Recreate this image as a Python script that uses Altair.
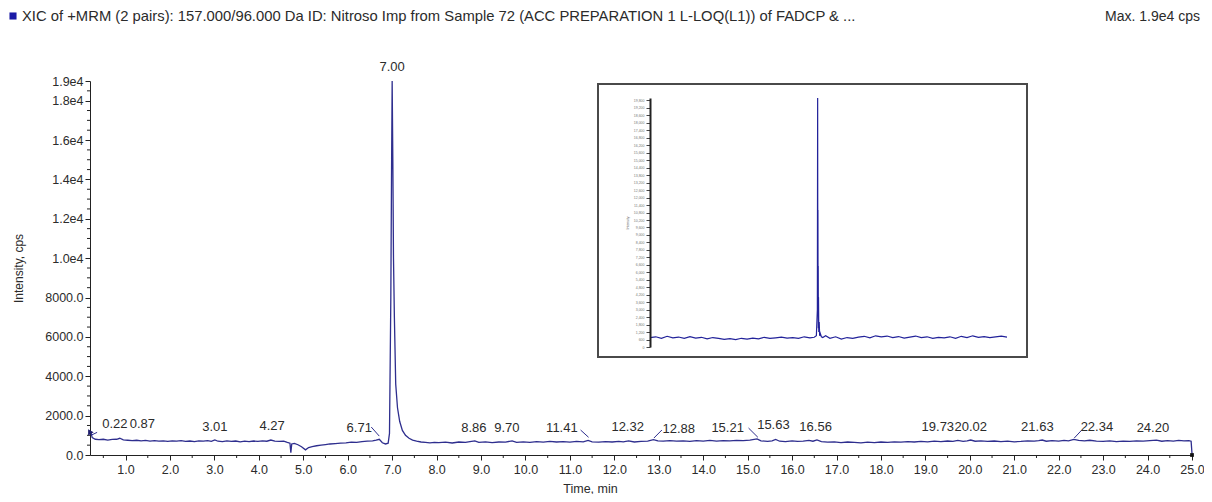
import altair as alt
import pandas as pd

# ---------------- data ----------------
time_min = [0.22, 0.25, 0.32, 0.40, 0.50, 0.60, 0.70, 0.80, 0.87, 0.95, 1.05, 1.15, 1.25, 1.35, 1.45,
            1.55, 1.65, 1.75, 1.85, 1.95, 2.05, 2.15, 2.25, 2.35, 2.45, 2.55, 2.65, 2.75, 2.85, 2.93,
            3.01, 3.08, 3.18, 3.28, 3.38, 3.48, 3.58, 3.68, 3.78, 3.88, 3.98, 4.08, 4.18, 4.27, 4.36,
            4.46, 4.56, 4.64, 4.70, 4.72, 4.74, 4.80, 4.88, 4.96, 5.05, 5.12, 5.20, 5.30, 5.40, 5.50,
            5.60, 5.72, 5.84, 5.96, 6.08, 6.20, 6.32, 6.44, 6.56, 6.64, 6.71, 6.78, 6.85, 6.91, 6.94,
            6.97, 6.985, 7.00, 7.015, 7.03, 7.05, 7.08, 7.12, 7.17, 7.23, 7.30, 7.38, 7.46, 7.55, 7.65,
            7.75, 7.85, 7.95, 8.05, 8.20, 8.35, 8.50, 8.65, 8.75, 8.86, 8.95, 9.10, 9.25, 9.40, 9.55,
            9.70, 9.80, 9.95, 10.10, 10.25, 10.40, 10.55, 10.70, 10.85, 11.00, 11.15, 11.30, 11.41, 11.50,
            11.65, 11.80, 11.95, 12.10, 12.20, 12.32, 12.45, 12.60, 12.75, 12.88, 12.98, 13.10, 13.25,
            13.40, 13.55, 13.70, 13.85, 14.00, 14.15, 14.30, 14.45, 14.60, 14.75, 14.90, 15.05, 15.21,
            15.30, 15.45, 15.55, 15.63, 15.72, 15.85, 16.00, 16.12, 16.25, 16.38, 16.47, 16.56, 16.66,
            16.80, 16.95, 17.10, 17.25, 17.40, 17.55, 17.70, 17.85, 18.00, 18.15, 18.30, 18.45, 18.60,
            18.75, 18.90, 19.05, 19.20, 19.35, 19.50, 19.62, 19.73, 19.85, 19.94, 20.02, 20.12, 20.25,
            20.40, 20.55, 20.70, 20.85, 21.00, 21.15, 21.30, 21.45, 21.55, 21.63, 21.72, 21.85, 22.00,
            22.12, 22.22, 22.34, 22.45, 22.58, 22.70, 22.85, 23.00, 23.15, 23.30, 23.45, 23.60, 23.75,
            23.90, 24.05, 24.20, 24.32, 24.45, 24.58, 24.70, 24.82, 24.93, 24.98, 25.00]
intensity = [1150, 880, 800, 780, 800, 760, 790, 800, 850, 770, 750, 730, 750, 720, 740,
             710, 730, 700, 720, 690, 720, 700, 730, 690, 710, 680, 720, 700, 730, 690,
             770, 700, 680, 720, 690, 710, 670, 700, 680, 710, 690, 720, 700, 760, 710,
             690, 700, 640, 600, 120, 560, 590, 520, 420, 260, 380, 430, 470, 500, 530,
             560, 580, 600, 620, 650, 640, 680, 700, 720, 760, 800, 620, 560, 600, 1100,
             8000, 14000, 19000, 15000, 10000, 7000, 3600, 2400, 1700, 1250, 1000, 850, 760, 700, 660,
             640, 620, 640, 630, 650, 610, 660, 640, 680, 720, 640, 670, 630, 660, 650,
             720, 640, 670, 640, 680, 650, 690, 660, 680, 650, 690, 670, 740, 670,
             650, 680, 660, 690, 670, 720, 660, 690, 710, 780, 720, 700, 730,
             700, 720, 690, 730, 710, 740, 700, 730, 720, 740, 730, 760, 820,
             720, 690, 720, 790, 700, 680, 720, 690, 700, 740, 700, 770, 680,
             650, 670, 630, 660, 640, 620, 650, 630, 660, 640, 670, 650, 680,
             660, 690, 670, 700, 680, 710, 690, 740, 690, 720, 760, 700, 720,
             690, 710, 680, 700, 670, 690, 720, 700, 730, 760, 700, 730, 710,
             740, 720, 790, 740, 720, 750, 710, 690, 720, 680, 700, 690, 720,
             700, 730, 760, 700, 730, 710, 740, 720, 730, 700, 60]

label_text = ["0.22", "0.87", "3.01", "4.27", "6.71", "7.00", "8.86", "9.70", "11.41", "12.32",
              "12.88", "15.21", "15.63", "16.56", "19.73", "20.02", "21.63", "22.34", "24.20"]
label_x = [0.76, 1.38, 3.01, 4.30, 6.26, 7.00, 8.84, 9.58, 10.82, 12.30,
           13.45, 14.55, 15.58, 16.53, 19.28, 20.02, 21.52, 22.86, 24.12]
label_y = [1220, 1220, 1070, 1120, 1020, 19360, 1020, 1020, 1020, 1070,
           970, 1020, 1170, 1070, 1070, 1070, 1070, 1070, 1020]

conn_x1 = [0.22, 6.53, 11.24, 12.89, 15.02, 22.35]
conn_x2 = [0.36, 6.71, 11.42, 13.07, 15.23, 22.52]
conn_y1 = [1000, 1420, 1270, 860, 1370, 860]
conn_y2 = [1150, 960, 900, 1270, 900, 1270]

x_major = [float(v) for v in range(1, 26)]
x_minor = [v + 0.5 for v in range(0, 25)]
y_major = [0, 2000, 4000, 6000, 8000, 10000, 12000, 14000, 16000, 18000, 19000]
y_minor = [v for v in range(500, 19000, 500) if v not in y_major]

inset_time = [0.0, 0.4, 0.8, 1.2, 1.6, 2.0, 2.4, 2.8, 3.2, 3.6, 4.0, 4.4, 4.8, 5.2, 5.6, 6.0, 6.4, 6.8,
              7.2, 7.6, 8.0, 8.4, 8.8, 9.2, 9.6, 10.0, 10.4, 10.8, 11.2, 11.5, 11.65, 11.72, 11.74,
              11.75, 11.76, 11.77, 11.78, 11.79, 11.80, 11.82, 11.85, 11.88, 11.92, 12.0, 12.1, 12.3,
              12.6, 13.0, 13.4, 13.8, 14.2, 14.6, 15.0, 15.4, 15.8, 16.2, 16.6, 17.0, 17.4, 17.8, 18.2,
              18.6, 19.0, 19.4, 19.8, 20.2, 20.6, 21.0, 21.4, 21.8, 22.2, 22.6, 23.0, 23.4, 23.8, 24.2,
              24.6, 25.0]
inset_intensity = [760, 820, 700, 860, 740, 800, 690, 830, 720, 780, 650, 760, 700, 620, 680, 600, 700, 640,
                   720, 660, 780, 690, 740, 800, 720, 760, 700, 820, 740, 780, 900, 3000, 20000,
                   6000, 11000, 2500, 6500, 1500, 4000, 1200, 2000, 900, 1100, 820, 760, 900,
                   700, 820, 640, 760, 700, 800, 860, 740, 900, 820, 880, 760, 840, 720, 800,
                   880, 760, 820, 700, 780, 740, 820, 700, 860, 760, 900, 780, 840, 760, 820,
                   880, 800]
inset_ticks = list(range(0, 20001, 600))

title_text = ("XIC of +MRM (2 pairs): 157.000/96.000 Da ID: Nitroso Imp from Sample 72 "
              "(ACC PREPARATION 1 L-LOQ(L1)) of FADCP & ...")
max_text = "Max. 1.9e4 cps"

# ---------------- chart ----------------
W, H = 1102, 374
FONT = "Liberation Sans"
TXT = "#2b2b2b"
LINE = "#2e2e8e"

trace = pd.DataFrame({"t": time_min, "i": intensity})
labels = pd.DataFrame({"t": label_x, "i": label_y, "txt": label_text})
conn = pd.DataFrame({"t": conn_x1, "t2": conn_x2, "i": conn_y1, "i2": conn_y2})
xmin_df = pd.DataFrame({"t": x_minor})
ymin_df = pd.DataFrame({"i": y_minor})
inset_df = pd.DataFrame({"it": inset_time, "ii": inset_intensity})
one = pd.DataFrame({"txt": [title_text], "mx": [max_text]})

xscale = alt.Scale(domain=[0.2, 25.0], nice=False, zero=False)
yscale = alt.Scale(domain=[0, 19000], nice=False)

x_axis = alt.Axis(values=x_major, format=".1f", title="Time, min", tickSize=5, labelPadding=3,
                  labelFontSize=12.5, labelFlush=False, labelOverlap=False, grid=False,
                  titleX=500, titleY=33, titleAlign="center", titleBaseline="middle",
                  titleFontWeight="normal", titleFontSize=12.5)
y_axis = alt.Axis(values=y_major, tickSize=5, labelPadding=2, labelFontSize=12.5,
                  labelOverlap=False, labelBound=False, grid=False,
                  labelExpr="datum.value >= 10000 ? format(datum.value/10000, '.1f') + 'e4' : format(datum.value, '.1f')",
                  title="Intensity, cps", titleX=-72, titleY=187, titleAlign="center",
                  titleBaseline="middle", titleFontWeight="normal", titleFontSize=12)

line = alt.Chart(trace).mark_line(color=LINE, strokeWidth=1.3).encode(
    x=alt.X("t:Q", scale=xscale, axis=x_axis),
    y=alt.Y("i:Q", scale=yscale, axis=y_axis),
)
start_mark = alt.Chart(trace.head(1)).mark_point(shape="triangle-right", filled=True, size=40,
                                                 color="#1e1e6e", opacity=1).encode(
    x=alt.X("t:Q", axis=x_axis), y=alt.Y("i:Q", axis=y_axis))
end_mark = alt.Chart(trace.tail(1)).mark_square(size=14, color="#111111", opacity=1).encode(
    x=alt.X("t:Q", axis=x_axis), y=alt.value(H))
peak_labels = alt.Chart(labels).mark_text(font=FONT, fontSize=13, color=TXT, align="center",
                                          baseline="bottom").encode(
    x=alt.X("t:Q", axis=x_axis), y=alt.Y("i:Q", axis=y_axis), text="txt:N")
connectors = alt.Chart(conn).mark_rule(color=LINE, strokeWidth=1).encode(
    x=alt.X("t:Q", axis=x_axis), x2="t2:Q",
    y=alt.Y("i:Q", axis=y_axis), y2="i2:Q")
xminor = alt.Chart(xmin_df).mark_rule(color="#222222", strokeWidth=1).encode(
    x=alt.X("t:Q", axis=x_axis), y=alt.value(H), y2=alt.value(H + 3))
yminor = alt.Chart(ymin_df).mark_rule(color="#222222", strokeWidth=1).encode(
    y=alt.Y("i:Q", axis=y_axis), x=alt.value(0), x2=alt.value(-3))

title_mark = alt.Chart(one).mark_text(font=FONT, fontSize=14.8, color=TXT, align="left",
                                      baseline="middle").encode(
    text="txt:N", x=alt.value(-68), y=alt.value(-64))
square_mark = alt.Chart(one).mark_square(size=50, color="#1a1aa6", opacity=1).encode(
    x=alt.value(-77), y=alt.value(-65))
max_mark = alt.Chart(one).mark_text(font=FONT, fontSize=14, color=TXT, align="right",
                                    baseline="middle").encode(
    text="mx:N", x=alt.value(1110), y=alt.value(-64))

main = alt.layer(line, yminor, xminor, connectors, peak_labels, start_mark, end_mark,
                 title_mark, square_mark, max_mark)

frame = alt.Chart(one).mark_rect(fill="white", stroke="#4a4a4a", strokeWidth=2).encode(
    x=alt.value(508), x2=alt.value(937), y=alt.value(3), y2=alt.value(276))
inset_line = alt.Chart(inset_df).mark_line(color="#22229a", strokeWidth=1.2).encode(
    x=alt.X("it:Q", scale=alt.Scale(domain=[0, 25], range=[560, 917], nice=False, zero=False),
            axis=None),
    y=alt.Y("ii:Q", scale=alt.Scale(domain=[0, 20000], range=[266, 17], nice=False),
            axis=alt.Axis(orient="left", offset=-560, values=inset_ticks, tickSize=4,
                          labelFontSize=3.5, labelColor="#777777", labelPadding=2,
                          labelOverlap=False, domainWidth=2, domainColor="#222222",
                          tickColor="#444444", grid=False, zindex=2,
                          title="Intensity", titleFontSize=3.5, titleColor="#555555",
                          titlePadding=4, titleFontWeight="normal")),
)
inset = alt.layer(frame, inset_line)

chart = alt.layer(main, inset).resolve_scale(x="independent", y="independent").properties(
    width=W, height=H,
    padding={"left": 82, "top": 73, "right": 12, "bottom": 39},
    autosize=alt.AutoSizeParams(type="none"),
).configure(font=FONT).configure_view(stroke=None).configure_axis(
    labelFont=FONT, titleFont=FONT, labelColor=TXT, titleColor=TXT,
    domainColor="#222222", tickColor="#222222", labelOverlap=False)

chart.save("out.html", embed_options={"renderer": "svg", "actions": False})
